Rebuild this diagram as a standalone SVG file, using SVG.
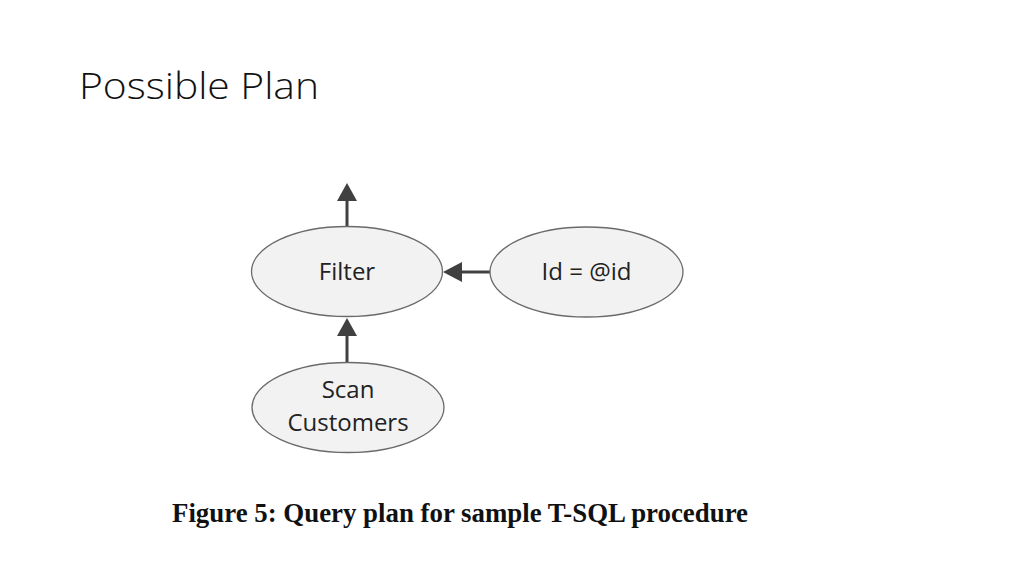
<svg xmlns="http://www.w3.org/2000/svg" width="1024" height="576" viewBox="0 0 1024 576">
<style>
.node{fill:#f2f2f2;stroke:#6a6a6a;stroke-width:1.3}
.lbl{font-family:"Open Sans","Noto Sans",sans-serif;font-size:24px;font-weight:500;fill:#222;text-anchor:middle}
.edge{stroke:#404040;stroke-width:3;fill:none}
.head{fill:#404040}
</style>
<rect width="1024" height="576" fill="#ffffff"/>
<text x="79" y="99" font-family="'Open Sans','Noto Sans',sans-serif" font-weight="300" font-size="37" fill="#111" textLength="240" lengthAdjust="spacingAndGlyphs">Possible Plan</text>
<g id="connectors">
<line class="edge" x1="347" y1="229" x2="347" y2="198"/>
<polygon class="head" points="347,183 337,201 357,201"/>
<line class="edge" x1="490" y1="272" x2="460" y2="272"/>
<polygon class="head" points="443,272 462,262 462,282"/>
<line class="edge" x1="347" y1="363" x2="347" y2="333"/>
<polygon class="head" points="347,318 337,336 357,336"/>
</g>
<g id="filter">
<ellipse class="node" cx="347" cy="271.5" rx="95.5" ry="45"/>
<text class="lbl" x="347" y="280">Filter</text>
</g>
<g id="id-param">
<ellipse class="node" cx="586.5" cy="272" rx="96.5" ry="45"/>
<text class="lbl" x="586.5" y="280">Id = @id</text>
</g>
<g id="scan-customers">
<ellipse class="node" cx="348" cy="407.5" rx="96" ry="45"/>
<text class="lbl" x="348" y="398">Scan</text>
<text class="lbl" x="348" y="431">Customers</text>
</g>
<text x="172" y="522" font-family="'Liberation Serif','Times New Roman',serif" font-weight="bold" font-size="27" fill="#111" textLength="576" lengthAdjust="spacingAndGlyphs">Figure 5: Query plan for sample T-SQL procedure</text>
</svg>
